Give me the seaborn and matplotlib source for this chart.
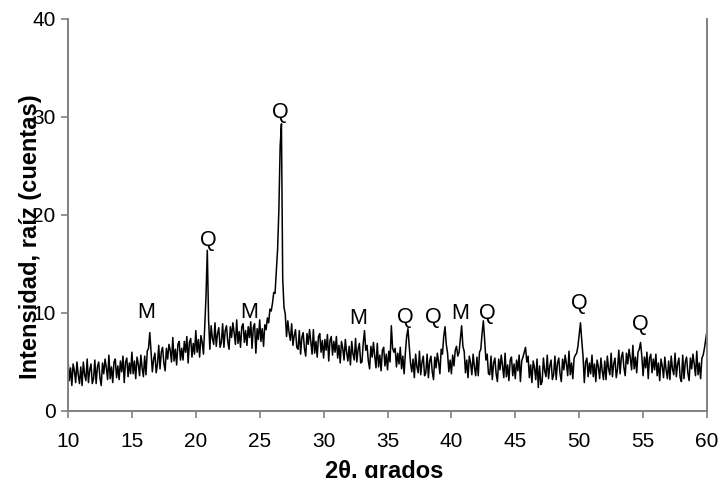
import numpy as np
import pandas as pd
import matplotlib
matplotlib.use("Agg")
import matplotlib.pyplot as plt
import seaborn as sns

# Diffractogram: 2-theta from 10 to 60 degrees in 0.1 degree steps
two_theta_start = 10.0
two_theta_step = 0.1

# Square root of counts, one row per degree (x.0 ... x.9)
sqrt_counts = [
    5.3, 3.1, 4.4, 2.6, 4.8, 4.1, 2.9, 5.0, 3.7, 2.8,   # 10
    4.5, 2.6, 5.0, 3.7, 3.1, 5.3, 2.9, 4.2, 4.8, 2.8,   # 11
    3.3, 5.2, 2.8, 4.5, 5.0, 3.4, 2.6, 4.9, 3.8, 5.3,   # 12
    4.4, 3.2, 5.7, 3.3, 4.5, 2.9, 5.0, 5.3, 3.4, 4.6,   # 13
    3.2, 5.1, 4.0, 5.6, 2.9, 5.0, 5.4, 3.5, 4.9, 3.8,   # 14
    6.0, 3.8, 5.1, 3.3, 5.5, 4.8, 3.6, 5.7, 4.4, 3.5,   # 15
    5.6, 3.7, 6.1, 6.4, 8.0, 6.0, 4.0, 5.3, 5.9, 3.9,   # 16
    4.8, 6.7, 4.3, 6.0, 6.5, 4.9, 4.1, 6.4, 5.3, 6.8,   # 17
    6.2, 5.0, 7.5, 5.1, 6.3, 4.7, 6.8, 7.1, 5.2, 6.4,   # 18
    5.2, 7.1, 6.0, 7.6, 4.9, 7.0, 7.4, 5.5, 6.9, 5.8,   # 19
    8.2, 6.0, 7.3, 5.5, 7.7, 7.0, 5.8, 8.6, 11.8, 16.4, # 20
    9.3, 6.3, 8.7, 7.4, 6.8, 9.0, 6.6, 7.9, 8.5, 6.5,   # 21
    7.0, 8.9, 6.5, 8.2, 8.7, 7.1, 6.3, 8.6, 7.5, 9.0,   # 22
    8.0, 6.8, 9.3, 6.9, 8.1, 6.5, 8.6, 8.9, 7.0, 8.2,   # 23
    6.7, 8.6, 7.5, 9.1, 6.4, 8.5, 8.9, 5.9, 8.4, 7.3,   # 24
    9.3, 7.1, 8.4, 6.6, 8.8, 8.3, 9.5, 9.0, 10.4, 10.2, # 25
    11.0, 12.1, 12.0, 14.2, 16.5, 20.5, 27.0, 29.3, 13.5, 10.6,  # 26
    9.9, 7.6, 9.2, 8.0, 7.2, 8.9, 6.7, 7.7, 8.3, 6.5,   # 27
    6.3, 8.2, 5.8, 7.5, 8.0, 6.4, 5.6, 7.9, 6.8, 8.3,   # 28
    7.0, 5.8, 8.3, 5.9, 7.1, 5.5, 7.6, 7.9, 6.0, 7.2,   # 29
    5.4, 7.3, 6.2, 7.8, 5.1, 7.2, 7.6, 5.7, 7.1, 6.0,   # 30
    7.6, 5.4, 6.7, 4.9, 7.1, 6.4, 5.2, 7.3, 6.0, 5.1,   # 31
    6.6, 4.7, 7.1, 5.8, 5.2, 7.4, 5.0, 6.3, 6.9, 4.9,   # 32
    5.0, 6.9, 8.2, 6.2, 6.7, 5.1, 4.3, 6.6, 5.5, 7.0,   # 33
    5.6, 4.4, 6.9, 4.5, 5.7, 4.1, 6.2, 6.5, 4.6, 5.8,   # 34
    4.2, 6.1, 5.0, 8.7, 6.4, 6.0, 6.4, 4.5, 5.9, 4.8,   # 35
    6.5, 4.3, 5.6, 3.8, 6.0, 7.6, 8.4, 6.6, 4.9, 4.0,   # 36
    5.3, 3.4, 5.8, 4.5, 3.9, 6.1, 3.7, 5.0, 5.6, 3.6,   # 37
    3.9, 5.8, 3.4, 5.1, 5.6, 4.0, 3.2, 5.5, 4.4, 5.9,   # 38
    5.0, 3.8, 6.3, 5.8, 7.6, 8.6, 6.8, 5.9, 4.0, 5.2,   # 39
    3.8, 5.7, 4.6, 6.2, 6.6, 5.6, 6.0, 7.4, 8.7, 6.6,   # 40
    6.1, 3.9, 5.2, 3.4, 5.6, 4.9, 3.7, 5.8, 4.5, 3.6,   # 41
    5.5, 3.6, 6.0, 6.3, 7.9, 9.2, 7.3, 5.2, 5.8, 3.8,   # 42
    3.7, 5.6, 3.2, 4.9, 5.4, 3.8, 3.0, 5.3, 4.2, 5.7,   # 43
    4.6, 3.4, 5.9, 3.5, 4.7, 3.1, 5.2, 5.5, 3.6, 4.8,   # 44
    3.3, 5.2, 4.1, 5.7, 3.0, 5.1, 5.5, 6.0, 6.5, 5.0,   # 45
    5.6, 3.4, 4.7, 2.9, 5.1, 4.4, 3.2, 5.3, 2.4, 4.6,   # 46
    2.7, 3.0, 5.4, 4.1, 3.5, 5.7, 3.3, 4.6, 5.2, 3.2,   # 47
    3.7, 5.6, 3.2, 4.9, 5.4, 3.8, 3.0, 5.3, 4.2, 5.7,   # 48
    4.8, 3.6, 6.1, 3.7, 4.9, 3.3, 5.4, 5.7, 5.9, 6.6,   # 49
    7.8, 9.0, 7.2, 5.6, 2.9, 5.0, 5.4, 3.5, 4.9, 3.8,   # 50
    5.7, 3.5, 4.8, 3.0, 5.2, 4.5, 3.3, 5.4, 4.1, 3.2,   # 51
    5.1, 3.2, 5.6, 4.3, 3.7, 5.9, 3.5, 4.8, 5.4, 3.4,   # 52
    4.3, 6.2, 3.8, 5.5, 6.0, 4.4, 3.6, 5.9, 4.8, 6.3,   # 53
    5.4, 4.2, 6.7, 4.3, 5.5, 3.9, 6.0, 6.3, 7.0, 5.6,   # 54
    3.6, 5.5, 4.4, 6.0, 3.3, 5.4, 5.8, 3.9, 5.3, 4.2,   # 55
    5.8, 3.6, 4.9, 3.1, 5.3, 4.6, 3.4, 5.5, 4.2, 3.3,   # 56
    5.1, 3.2, 5.6, 4.3, 3.7, 5.9, 3.5, 4.8, 5.4, 3.4,   # 57
    3.0, 5.7, 3.3, 5.0, 5.5, 3.9, 3.1, 5.4, 4.3, 5.8,   # 58
    4.8, 3.6, 6.1, 3.7, 4.9, 3.3, 5.4, 5.7, 6.4, 7.3,   # 59
    8.2,                                                # 60
]

# Phase labels (M = mica, Q = quartz) and where they sit
phase_labels = ["M", "Q", "M", "Q", "M", "Q", "Q", "M", "Q", "Q", "Q"]
label_x = [16.1, 20.95, 24.2, 26.6, 32.7, 36.4, 38.6, 40.7, 42.8, 50.0, 54.8]
label_y = [10.0, 17.4, 10.0, 30.5, 9.4, 9.5, 9.5, 9.9, 10.0, 11.0, 8.8]

x_ticks = [10, 15, 20, 25, 30, 35, 40, 45, 50, 55, 60]
y_ticks = [0, 10, 20, 30, 40]

two_theta = np.round(two_theta_start + two_theta_step * np.arange(len(sqrt_counts)), 1)
df = pd.DataFrame({"two_theta": two_theta, "intensity": sqrt_counts})

sns.set_theme(style="white")
plt.rcParams["font.family"] = ["Liberation Sans", "DejaVu Sans"]

fig = plt.figure(figsize=(7.21, 4.78), dpi=100)
ax = fig.add_axes([68 / 721, 1 - 411 / 478, (707 - 68) / 721, (411 - 19) / 478])

sns.lineplot(data=df, x="two_theta", y="intensity", ax=ax,
             color="black", linewidth=1.1, estimator=None)

for lab, lx, ly in zip(phase_labels, label_x, label_y):
    ax.text(lx, ly, lab, ha="center", va="center", fontsize=15.5, color="black")

ax.set_xlim(10, 60)
ax.set_ylim(0, 40)
ax.set_xticks(x_ticks)
ax.set_yticks(y_ticks)

grey = "#808080"
for side in ["left", "bottom", "right"]:
    ax.spines[side].set_visible(True)
    ax.spines[side].set_color(grey)
    ax.spines[side].set_linewidth(1.4)
ax.spines["top"].set_visible(False)

ax.tick_params(axis="both", which="major", direction="out", length=5,
               width=1.2, color=grey, labelsize=15, labelcolor="black")
ax.tick_params(axis="x", bottom=True, top=False, pad=10)
ax.tick_params(axis="y", left=True, right=False, pad=4)
ax.grid(False)

ax.set_xlabel("2θ, grados", fontsize=17, fontweight="bold", color="black")
ax.set_ylabel("Intensidad, raíz (cuentas)", fontsize=17, fontweight="bold", color="black")
ax.xaxis.set_label_coords(0.495, -0.125)
ax.yaxis.set_label_coords(-0.04, 0.444)

fig.savefig("out.png", dpi=100, facecolor="white")
